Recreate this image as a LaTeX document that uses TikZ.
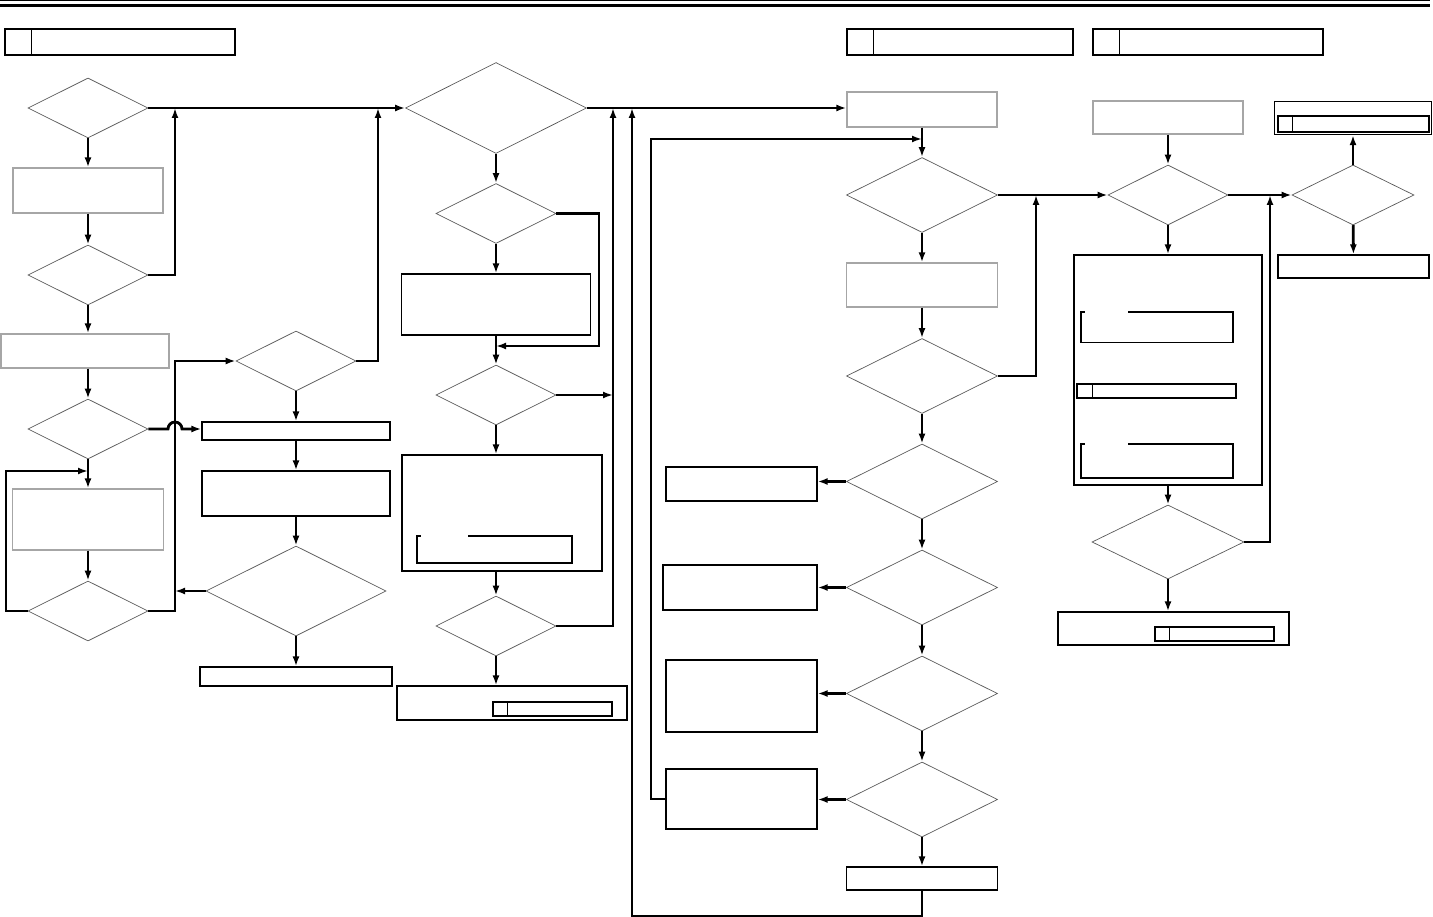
\documentclass[tikz,border=0pt]{standalone}
\usepackage{tikz}
\usetikzlibrary{positioning,shapes.geometric,arrows.meta}
\begin{document}
\begin{tikzpicture}[
    x=1pt, y=-1pt,
    dec/.style={diamond, draw=black!65, line width=0.7pt, inner sep=0pt, minimum width=120pt, minimum height=60pt},
    bigdec/.style={dec, minimum width=151pt, minimum height=75pt},
    box/.style={rectangle, draw, line width=1.2pt, inner sep=0pt},
    gbox/.style={box, draw=black!35},
    frame/.style={line width=1.2pt},
    flow/.style={-{Latex[length=10pt,width=7pt]}, line width=2.8pt}
]
    \useasboundingbox (0,0) rectangle (1433,917);
    \draw[line width=1pt] (0,1) -- (1430,1);
    \draw[line width=3pt] (0,5.5) -- (1430,5.5);

    % title boxes
    \node[box, minimum width=230pt, minimum height=26pt] (title1) at (120,42) {};
    \node[box, minimum width=226pt, minimum height=26pt] (title2) at (960,42) {};
    \node[box, minimum width=230pt, minimum height=26pt] (title3) at (1208,42) {};
    \foreach \t in {title1,title2,title3}
        \draw[frame] ([xshift=27pt]\t.north west) -- ([xshift=27pt]\t.south west);

    % first column
    \node[dec] (start) at (88,108) {};
    \node[gbox, minimum width=150pt, minimum height=45pt] (prep) at (88,190.5) {};
    \node[dec] (check) at (88,275) {};
    \node[gbox, minimum width=168pt, minimum height=34pt] (setup) at (85,351) {};
    \node[dec] (ready) at (88,429) {};
    \node[gbox, minimum width=151pt, minimum height=61pt] (wait) at (88,519.5) {};
    \node[dec] (again) at (88,611) {};

    % second column
    \node[dec] (probe) at (296,361) {};
    \node[box, minimum width=188pt, minimum height=18pt] (load) at (296,431) {};
    \node[box, minimum width=188pt, minimum height=45pt] (adjust) at (296,493.5) {};
    \node[dec, minimum width=180pt, minimum height=90pt] (result) at (296,591) {};
    \node[box, minimum width=192pt, minimum height=19pt] (stopA) at (296,676.5) {};

    % third column
    \node[dec, minimum width=181pt, minimum height=91pt] (main) at (496,108) {};
    \node[dec] (sense) at (496,213.5) {};
    \node[box, minimum width=189pt, minimum height=61pt] (reset) at (496,304.5) {};
    \node[dec] (level) at (496,395) {};
    \node[box, minimum width=200pt, minimum height=116pt] (repair) at (502,513) {};
    \node[dec] (retry) at (496,626) {};
    \node[box, minimum width=230pt, minimum height=34pt] (stopB) at (512,703) {};
    \node[box, minimum width=119pt, minimum height=14pt] (refB) at (552.5,709) {};
    \draw[frame] (refB.north west) ++(15pt,0) -- ++(0,-14pt);
    \draw[frame] (468,536) -| (572,563) -| (417,536) -- (421,536);

    % fourth column
    \node[gbox, minimum width=150pt, minimum height=35pt] (run) at (922,109.5) {};
    \node[bigdec] (test) at (922,195) {};
    \node[gbox, minimum width=151pt, minimum height=44pt] (measure) at (922,285) {};
    \node[bigdec] (valid) at (922,376) {};
    \node[bigdec] (caseA) at (922,481.5) {};
    \node[bigdec] (caseB) at (922,587.5) {};
    \node[bigdec] (caseC) at (922,693.5) {};
    \node[bigdec] (caseD) at (922,799.5) {};
    \node[box, minimum width=151pt, minimum height=23pt] (done) at (922,878.5) {};
    \node[box, minimum width=151pt, minimum height=34pt] (fixA) at (741.5,484) {};
    \node[box, minimum width=154pt, minimum height=45pt] (fixB) at (740,587.5) {};
    \node[box, minimum width=151pt, minimum height=72pt] (fixC) at (741.5,696) {};
    \node[box, minimum width=151pt, minimum height=60pt] (fixD) at (741.5,799) {};

    % fifth column
    \node[gbox, minimum width=150pt, minimum height=33pt] (calib) at (1168,117.5) {};
    \node[dec] (limit) at (1168,195) {};
    \node[box, minimum width=188pt, minimum height=230pt] (service) at (1168,370) {};
    \draw[frame] (1128,312) -| (1233,342.5) -| (1081,312) -- (1085,312);
    \node[box, minimum width=159pt, minimum height=14pt] (refC) at (1156.5,391) {};
    \draw[frame] (refC.north west) ++(16pt,0) -- ++(0,-14pt);
    \draw[frame] (1128,444) -| (1233,478) -| (1081,444) -- (1085,444);
    \node[dec, minimum width=152pt, minimum height=74pt] (final) at (1168,542) {};
    \node[box, minimum width=231pt, minimum height=33pt] (stopC) at (1173.5,628.5) {};
    \node[box, minimum width=119pt, minimum height=14pt] (refD) at (1214.5,634) {};
    \draw[frame] (refD.north west) ++(15pt,0) -- ++(0,-14pt);

    % sixth column
    \node[dec, minimum width=122pt] (pass) at (1353,195) {};
    \node[box, minimum width=157pt, minimum height=33pt] (report) at (1353,118) {};
    \node[box, minimum width=151pt, minimum height=16pt] (refE) at (1353.5,124) {};
    \draw[frame] (refE.north west) ++(15pt,0) -- ++(0,-16pt);
    \node[box, minimum width=151pt, minimum height=23pt] (alarm) at (1353.5,266.5) {};

    % joints
    \coordinate (j1) at (175,108);
    \coordinate (j2) at (175,361);
    \coordinate (j3) at (6,471);
    \coordinate (j4) at (378,108);
    \coordinate (j5) at (599,346);
    \coordinate (j6) at (613,108);
    \coordinate (j7) at (632,108);
    \coordinate (j8) at (632,916);
    \coordinate (j9) at (651,139);
    \coordinate (j10) at (1036,195);
    \coordinate (j11) at (1270,195);

    \draw[flow] (start) -- (prep);
    \draw[flow] (prep) -- (check);
    \draw[flow] (check) -- (check |- setup.north);
    \draw[flow] (check |- setup.south) -- (ready);
    \draw[flow] (ready) -- (wait);
    \draw[flow] (wait) -- (again);
    \draw[flow] (again.west) -| (j3) -- (j3 -| again);
    \draw[flow] (again.east) -| (j2) -- (probe.west);
    \draw[flow] (check.east) -| (j1);
    \draw[flow] (start.east) -- (main.west);
    \draw[flow] (ready.east) -- ([xshift=-7pt]ready.east -| j1) arc[start angle=180, end angle=0, radius=7pt] -- (ready.east -| load.west);

    \draw[flow] (probe) -- (load);
    \draw[flow] (load) -- (adjust);
    \draw[flow] (adjust) -- (result);
    \draw[flow] (result.west) -- (result.west -| j2);
    \draw[flow] (result) -- (stopA);
    \draw[flow] (probe.east) -| (j4);

    \draw[flow] (main) -- (sense);
    \draw[flow] (sense) -- (reset);
    \draw[flow] (sense.east) -| (j5) -- (j5 -| sense);
    \draw[flow] (reset) -- (level);
    \draw[flow] (level.east) -- (level.east -| j6);
    \draw[flow] (level) -- (level |- repair.north);
    \draw[flow] (retry |- repair.south) -- (retry);
    \draw[flow] (retry.east) -| (j6);
    \draw[flow] (retry) -- (retry |- stopB.north);
    \draw[flow] (main.east) -- (main.east -| run.west);

    \draw[flow] (run) -- (test);
    \draw[flow] (test) -- (measure);
    \draw[flow] (measure) -- (valid);
    \draw[flow] (valid.east) -| (j10);
    \draw[flow] (valid) -- (caseA);
    \draw[flow] (caseA) -- (caseB);
    \draw[flow] (caseB) -- (caseC);
    \draw[flow] (caseC) -- (caseD);
    \draw[flow] (caseD) -- (done);
    \draw[flow] (caseA.west) -- (caseA.west -| fixA.east);
    \draw[flow] (caseB.west) -- (caseB.west -| fixB.east);
    \draw[flow] (caseC.west) -- (caseC.west -| fixC.east);
    \draw[flow] (caseD.west) -- (caseD.west -| fixD.east);
    \draw[flow] (fixD.west) -| (j9) -- (j9 -| run);
    \draw[flow] (done.south) |- (j8) -- (j7);
    \draw[flow] (test.east) -- (limit.west);

    \draw[flow] (calib) -- (limit);
    \draw[flow] (limit) -- (service);
    \draw[flow] (service) -- (final);
    \draw[flow] (final.east) -| (j11);
    \draw[flow] (final) -- (final |- stopC.north);
    \draw[flow] (limit.east) -- (pass.west);

    \draw[flow] (pass) -- (report);
    \draw[flow] (pass) -- (alarm);
\end{tikzpicture}
\end{document}
